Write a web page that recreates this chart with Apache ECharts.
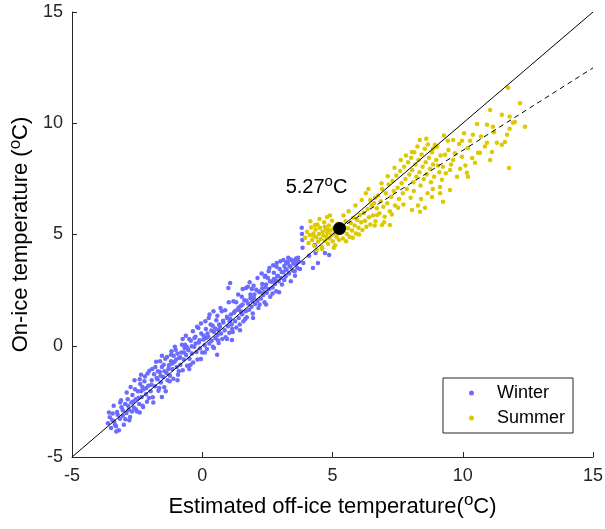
<!DOCTYPE html>
<html>
<head>
<meta charset="utf-8">
<script src="https://cdn.jsdelivr.net/npm/echarts@6/dist/echarts.min.js"></script>
<style>
html,body{margin:0;padding:0;background:#fff;}
#chart{width:605px;height:529px;}
</style>
</head>
<body>
<div id="chart"></div>
<script>
var xTicks = [-5, 0, 5, 10, 15];
var yTicks = [-5, 0, 5, 10, 15];
var seriesNames = ['Winter', 'Summer'];

var winter = [
[-3.62,-3.48],[-3.55,-3.21],[-3.50,-3.70],[-3.44,-3.05],[-3.38,-3.42],[-3.31,-3.62],[-3.27,-2.98],[-3.20,-3.80],[-3.16,-3.28],[-3.10,-2.76],[-3.05,-3.15],[-3.01,-3.55],
[-2.96,-2.62],[-2.91,-3.02],[-2.86,-2.41],[-2.82,-2.88],[-2.77,-3.20],[-2.72,-2.55],[-2.68,-2.21],[-2.63,-2.78],[-2.60,-1.55],[-2.55,-2.40],[-2.51,-2.95],[-2.47,-2.05],[-2.42,-2.62],[-2.38,-1.72],[-2.33,-2.30],[-2.29,-2.70],[-2.25,-1.95],[-2.20,-1.38],[-2.16,-2.18],[-2.12,-2.52],[-2.07,-1.80],[-2.03,-1.12],
[-1.98,-2.05],[-1.94,-1.55],[-1.90,-2.32],[-1.85,-1.28],[-1.81,-1.82],[-1.77,-0.72],[-1.72,-1.50],[-1.68,-2.02],[-1.63,-1.18],[-1.59,-1.65],[-1.55,-0.95],[-1.50,-1.40],[-1.46,-1.86],[-1.42,-0.58],[-1.37,-1.22],[-1.33,-1.55],[-1.28,-0.88],[-1.24,-1.35],[-1.20,-0.40],[-1.15,-1.05],[-1.11,-1.48],[-1.06,-0.72],[-1.02,-0.18],
[-0.98,-0.95],[-0.93,-1.30],[-0.89,-0.55],[-0.84,-0.85],[-0.80,-0.30],[-0.75,-1.10],[-0.71,-0.62],[-0.66,0.05],[-0.62,-0.42],[-0.58,-0.90],[-0.53,-0.20],[-0.49,-0.58],[-0.44,0.22],[-0.40,-0.35],[-0.35,-0.75],[-0.31,-0.05],[-0.26,0.40],[-0.22,-0.28],[-0.18,-0.62],[-0.13,0.15],[-0.09,-0.12],[-0.04,0.55],
[0.00,-0.30],[0.05,0.28],[0.09,0.02],[0.14,0.75],[0.18,-0.15],[0.23,0.40],[0.27,0.10],[0.32,0.95],[0.36,0.22],[0.41,-0.05],[0.45,0.62],[0.50,0.35],[0.54,1.15],[0.59,0.48],[0.63,0.12],[0.68,0.85],[0.72,0.55],[0.77,0.30],[0.81,1.05],[0.86,0.70],[0.90,0.38],[0.95,1.30],
[0.99,0.88],[1.04,0.58],[1.08,1.20],[1.13,0.95],[1.17,0.62],[1.22,1.48],[1.26,1.10],[1.31,0.82],[1.35,1.62],[1.40,1.25],[1.44,0.95],[1.49,1.80],[1.53,1.42],[1.58,1.10],[1.62,2.05],[1.67,1.55],[1.71,1.28],[1.76,1.90],[1.80,1.62],[1.85,2.30],[1.89,1.75],[1.94,1.45],
[1.98,2.15],[2.03,1.88],[2.07,2.52],[2.12,2.02],[2.16,1.70],[2.21,2.40],[2.25,2.12],[2.30,2.78],[2.34,2.28],[2.39,1.95],[2.43,2.62],[2.48,2.38],[2.52,3.05],[2.57,2.55],[2.61,2.20],[2.66,2.88],[2.70,2.62],[2.75,3.28],[2.79,2.78],[2.84,2.45],[2.88,3.12],[2.93,2.90],
[2.97,3.45],[3.02,3.05],[3.06,2.75],[3.11,3.30],[3.15,3.58],[3.20,3.12],[3.24,3.42],[3.29,3.72],[3.33,3.25],[3.38,3.55],[3.42,3.85],[3.47,3.38],[3.51,3.68],[3.56,3.15],[3.60,3.92],[3.65,3.50],[3.70,3.78],[3.75,3.45],
[3.82,5.30],[3.83,5.02],[3.84,4.75],[3.85,4.40],[3.88,3.72],[4.10,4.05],[4.25,3.50],[4.33,4.53],[4.35,4.17],[4.44,3.72],[4.71,4.17],[4.87,4.08],[4.60,4.38],
[-3.45,-3.35],[-3.25,-3.10],[-3.05,-2.90],[-2.85,-2.70],[-2.65,-2.50],[-2.45,-2.35],[-2.35,-2.05],[-2.15,-1.90],[-1.95,-1.75],[-1.75,-1.45],[-1.60,-1.35],[-1.45,-1.15],[-1.30,-1.05],[-1.15,-0.80],[-1.00,-0.62],[-0.85,-0.52],[-0.70,-0.30],[-0.55,-0.15],[-0.40,-0.02],[-0.25,0.10],[-0.10,0.25],[0.05,0.45],[0.20,0.55],[0.35,0.68],[0.50,0.78],[0.65,0.95],[0.80,1.12],[0.95,1.25],[1.10,1.40],[1.25,1.55],[1.40,1.72],[1.55,1.85],[1.70,2.02],[1.85,2.15],[2.00,2.30],[2.15,2.45],[2.30,2.58],[2.45,2.75],[2.60,2.90],[2.75,3.00],[2.90,3.15],[3.05,3.32],[3.20,3.45],[3.35,3.60],[3.50,3.75],[3.65,3.88],
[-3.35,-3.55],[-2.95,-3.30],[-2.55,-2.85],[-2.05,-2.35],[-1.65,-1.90],[-1.25,-1.60],[-0.90,-1.15],[-0.45,-0.85],[0.10,-0.30],[0.60,0.25],[1.15,0.75],[1.65,1.20],[2.20,1.85],[2.70,2.35],[3.15,2.95],[3.55,3.35],
[-2.35,-1.30],[-1.55,-0.45],[-0.75,0.30],[0.25,1.25],[1.07,2.82],[1.00,2.60],[1.55,2.55],[1.14,0.26],[0.57,-0.41],[-1.55,-2.30],[-2.27,-2.75],
[-1.20,-0.70],[-0.60,-0.05],[0.40,0.90],[1.30,1.95],[1.90,2.55],[2.40,3.10],[2.85,3.55],[3.30,3.95],[-0.15,0.80],[0.75,1.55],[1.75,2.65],[2.55,3.35],
[-3.40,-2.70],[-3.15,-2.55],[-2.90,-2.10],[-2.75,-1.85],[-2.58,-1.95],[-2.40,-1.50],[-2.22,-1.60],[-2.10,-1.25],[-1.92,-1.05],[-1.80,-0.95],[-1.62,-0.70],[-1.48,-0.85],[-1.35,-0.50],[-1.18,-0.25],[-1.05,-0.05],[-0.95,-0.35],[-0.78,0.05],[-0.63,0.45],[-0.50,0.30],[-0.36,0.65],[-0.20,0.85],[-0.05,1.00],[0.12,1.10],[0.28,1.40],[0.43,1.55],[0.58,1.35],[0.70,1.70],[0.88,1.60],[1.02,1.95],[1.20,2.00],[1.38,2.30],[1.52,2.20],[1.68,2.60],[1.82,2.85],[1.97,2.70],[2.12,3.05],[2.28,3.25],[2.42,3.15],[2.58,3.50],[2.72,3.62],[2.86,3.72],[3.00,3.80],[3.12,3.85],[3.26,3.78],[3.40,3.88],[3.53,3.82],[3.68,3.95],
[-3.30,-3.85],[-2.80,-3.35],[-2.40,-3.00],[-1.88,-2.55],[-1.40,-2.05],[-0.95,-1.55],[-0.50,-1.05],[-0.05,-0.60],[0.45,-0.10],[0.95,0.30],[1.45,0.70],[1.95,1.25],[2.45,1.85],[2.95,2.40],[3.40,2.90],
[-3.58,-3.00],[-3.12,-2.45],[-2.70,-2.95],[-2.30,-1.85],[-1.70,-1.15],[-1.10,-0.45],[-0.68,-0.10],[-0.30,0.35],[0.15,0.35],[0.62,0.70],[1.05,1.10],[1.48,1.55],[1.92,2.00],[2.38,2.40],[2.80,2.95],[3.22,3.72],[3.62,3.70]
];

var summer = [
[3.95,4.85],[4.02,5.12],[4.08,4.62],[4.12,4.98],[4.18,5.32],[4.22,4.75],[4.27,5.05],[4.30,4.50],[4.35,5.22],[4.38,4.88],[4.42,5.45],[4.45,4.68],[4.48,5.02],[4.52,5.30],[4.55,4.80],[4.58,4.45],[4.62,5.12],[4.65,4.95],[4.68,5.55],[4.71,4.72],[4.74,5.25],[4.77,4.90],[4.80,5.08],[4.83,4.58],[4.86,5.40],[4.89,4.82],[4.92,5.18],[4.95,4.98],[4.98,5.62],[5.01,4.70],[5.04,5.28],[5.07,5.02],[5.10,4.52],[5.13,5.15],[5.16,4.88],[5.19,5.48],[5.22,5.05],[5.25,4.75],[4.40,4.30],[4.60,4.35],[4.15,5.60],[4.50,5.70],[4.90,5.85],[5.05,4.40],[4.70,5.35],[4.25,4.95],[4.85,5.20],[5.15,5.30],[4.33,5.43],[4.79,5.79],
[5.35,5.10],[5.40,4.82],[5.45,5.35],[5.50,5.60],[5.55,5.02],[5.60,5.28],[5.65,4.90],[5.70,5.52],[5.75,5.18],[5.80,5.75],[5.85,5.40],[5.90,5.05],[5.95,5.65],[6.00,5.30],[6.05,5.88],[6.10,5.55],[6.15,5.20],[6.20,5.98],[6.25,5.62],[6.30,5.35],[6.35,6.15],[6.40,5.78],[6.45,5.45],[6.50,6.30],[5.52,4.70],[5.78,4.85],[6.02,5.00],[5.62,6.05],[5.88,6.30],[6.12,6.55],[6.28,6.85],[5.42,5.85],[6.38,7.05],[6.63,6.65],[6.45,6.55],
[6.55,5.85],[6.60,6.42],[6.65,5.60],[6.70,6.18],[6.75,6.75],[6.80,5.95],[6.85,6.50],[6.90,7.05],[6.95,6.25],[7.00,5.80],[7.05,6.85],[7.10,6.40],[7.15,7.25],[7.20,6.05],[7.25,6.70],[7.30,7.40],[7.35,6.95],[7.40,6.30],[7.45,7.65],[7.50,7.10],[7.55,6.60],[7.60,7.85],[7.65,7.30],[7.70,6.85],[7.75,8.05],[7.80,7.50],[7.85,7.05],[7.90,8.25],[7.95,7.70],[8.00,6.65],[6.62,5.40],[6.98,5.55],[7.28,5.90],[7.52,6.20],[7.72,6.35],[7.38,8.00],[7.62,8.35],[7.12,7.62],[6.88,7.30],[7.82,8.55],[6.90,5.43],[7.20,5.43],[6.71,5.88],
[8.02,8.45],[8.06,7.90],[8.10,7.35],[8.14,8.70],[8.18,8.15],[8.22,7.60],[8.26,8.95],[8.30,8.35],[8.34,7.80],[8.38,7.20],[8.42,8.60],[8.46,8.05],[8.50,7.50],[8.54,8.85],[8.58,8.25],[8.62,7.70],[8.66,9.05],[8.70,8.45],[8.74,7.95],[8.78,7.35],[8.82,8.70],[8.86,8.15],[8.90,7.60],[8.94,8.95],[8.98,8.35],[8.12,6.95],[8.40,6.60],[8.65,6.85],[8.28,6.30],[8.55,6.20],[8.85,7.05],[8.05,6.10],[8.35,9.25],[8.60,9.30],[8.05,8.71],[8.93,9.03],[8.36,6.02],
[11.74,11.60],[12.20,10.90],[11.05,10.60],[11.50,10.38],[11.80,10.30],[12.00,10.06],[12.39,9.84],[11.80,9.75],[10.55,9.97],[10.93,9.93],[10.39,9.48],[11.70,9.48],[11.62,9.16],[11.31,9.12],[10.93,9.12],[11.12,8.71],[11.05,8.35],[10.28,9.21],[9.97,9.21],[9.63,9.25],[9.43,9.21],[9.86,9.07],[10.20,8.89],[10.59,8.67],[10.36,8.44],[10.47,8.22],[9.97,8.49],[9.63,8.35],[10.16,7.77],[9.78,7.59],[9.51,7.90],[9.24,8.04],[9.20,7.46],[9.13,7.14],[9.51,7.00],[8.82,6.69],[11.78,7.99],[9.32,8.58],[8.86,8.85],[9.01,8.94],[9.24,6.47],[9.13,6.85],
[9.05,8.10],[9.15,8.55],[9.35,7.75],[9.45,8.80],[9.70,8.65],[9.90,7.95],[10.05,9.55],[10.70,9.40],[10.85,8.95],[11.20,9.60],[10.10,8.10],[9.28,9.45],[9.55,8.15],[9.10,7.80],[10.66,8.67],[11.16,9.84],[11.50,9.03],[11.93,10.02],[10.20,7.60]
];

var identityLine = [[-5, -5], [15, 15]];
var summerFitLine = [[5.27, 5.27], [15, 12.49]];
var breakPoint = [[5.27, 5.27]];
var breakLabel = '5.27';

var chart = echarts.init(document.getElementById('chart'), null, {renderer: 'canvas'});
var axisColor = '#262626';
var fontFam = 'Arial, "Liberation Sans", sans-serif';
var supStyle = function (size, pad) {
  return {fontSize: size, fontFamily: fontFam, color: '#000', verticalAlign: 'top', padding: [0, 0, pad, 0]};
};

chart.setOption({
  animation: false,
  backgroundColor: '#ffffff',
  grid: {left: 72, right: 12, top: 12, bottom: 72, containLabel: false, outerBoundsMode: 'none'},
  xAxis: {
    type: 'value', min: xTicks[0], max: xTicks[xTicks.length - 1], interval: 5,
    axisLine: {onZero: false, lineStyle: {color: axisColor, width: 1}},
    axisTick: {inside: true, length: 5, lineStyle: {color: axisColor}},
    axisLabel: {color: axisColor, fontSize: 18, fontFamily: fontFam, margin: 10},
    splitLine: {show: false},
    name: '{t|Estimated off-ice temperature(}{s|o}{t|C)}',
    nameLocation: 'middle', nameGap: 35,
    nameTextStyle: {
      color: '#000', fontFamily: fontFam,
      rich: {t: {fontSize: 22, fontFamily: fontFam, color: '#000'}, s: supStyle(17, 12)}
    }
  },
  yAxis: {
    type: 'value', min: yTicks[0], max: yTicks[yTicks.length - 1], interval: 5,
    axisLine: {onZero: false, lineStyle: {color: axisColor, width: 1}},
    axisTick: {inside: true, length: 5, lineStyle: {color: axisColor}},
    axisLabel: {color: axisColor, fontSize: 18, fontFamily: fontFam, margin: 9},
    splitLine: {show: false},
    name: '{t|On-ice temperature (}{s|o}{t|C)}',
    nameLocation: 'middle', nameGap: 34, nameRotate: 90,
    nameTextStyle: {
      color: '#000', fontFamily: fontFam,
      rich: {t: {fontSize: 22, fontFamily: fontFam, color: '#000'}, s: supStyle(17, 12)}
    }
  },
  legend: {
    orient: 'vertical', left: 443, top: 378,
    data: [{name: seriesNames[0]}, {name: seriesNames[1]}],
    icon: 'circle', itemWidth: 5, itemHeight: 5, itemGap: 7,
    padding: [6, 8, 6, 26],
    borderColor: axisColor, borderWidth: 1, backgroundColor: '#fff',
    textStyle: {fontSize: 18, fontFamily: fontFam, color: '#000', padding: [0, 0, 0, 18]}
  },
  series: [
    {
      name: 'identity', type: 'line', data: identityLine, showSymbol: false, symbol: 'none',
      lineStyle: {color: '#000', width: 1}, z: 3, silent: true
    },
    {
      name: seriesNames[0], type: 'scatter', data: winter, symbolSize: 4.5,
      itemStyle: {color: '#6b6bff', opacity: 1}, z: 2
    },
    {
      name: seriesNames[1], type: 'scatter', data: summer, symbolSize: 4.5,
      itemStyle: {color: '#dcc900', opacity: 1}, z: 2
    },
    {
      name: 'fit', type: 'line', data: summerFitLine, showSymbol: false, symbol: 'none',
      lineStyle: {color: '#000', width: 1, type: [5, 4]}, z: 3, silent: true
    },
    {
      name: 'break', type: 'scatter', data: breakPoint, symbolSize: 13,
      itemStyle: {color: '#000', opacity: 1}, z: 4,
      label: {
        show: true, position: 'top', distance: 0, offset: [-23, -22], color: '#000',
        formatter: '{t|' + breakLabel + '}{s|o}{t|C}',
        rich: {t: {fontSize: 20, fontFamily: fontFam, color: '#000'}, s: supStyle(15, 11)}
      }
    }
  ]
});
</script>
</body>
</html>
